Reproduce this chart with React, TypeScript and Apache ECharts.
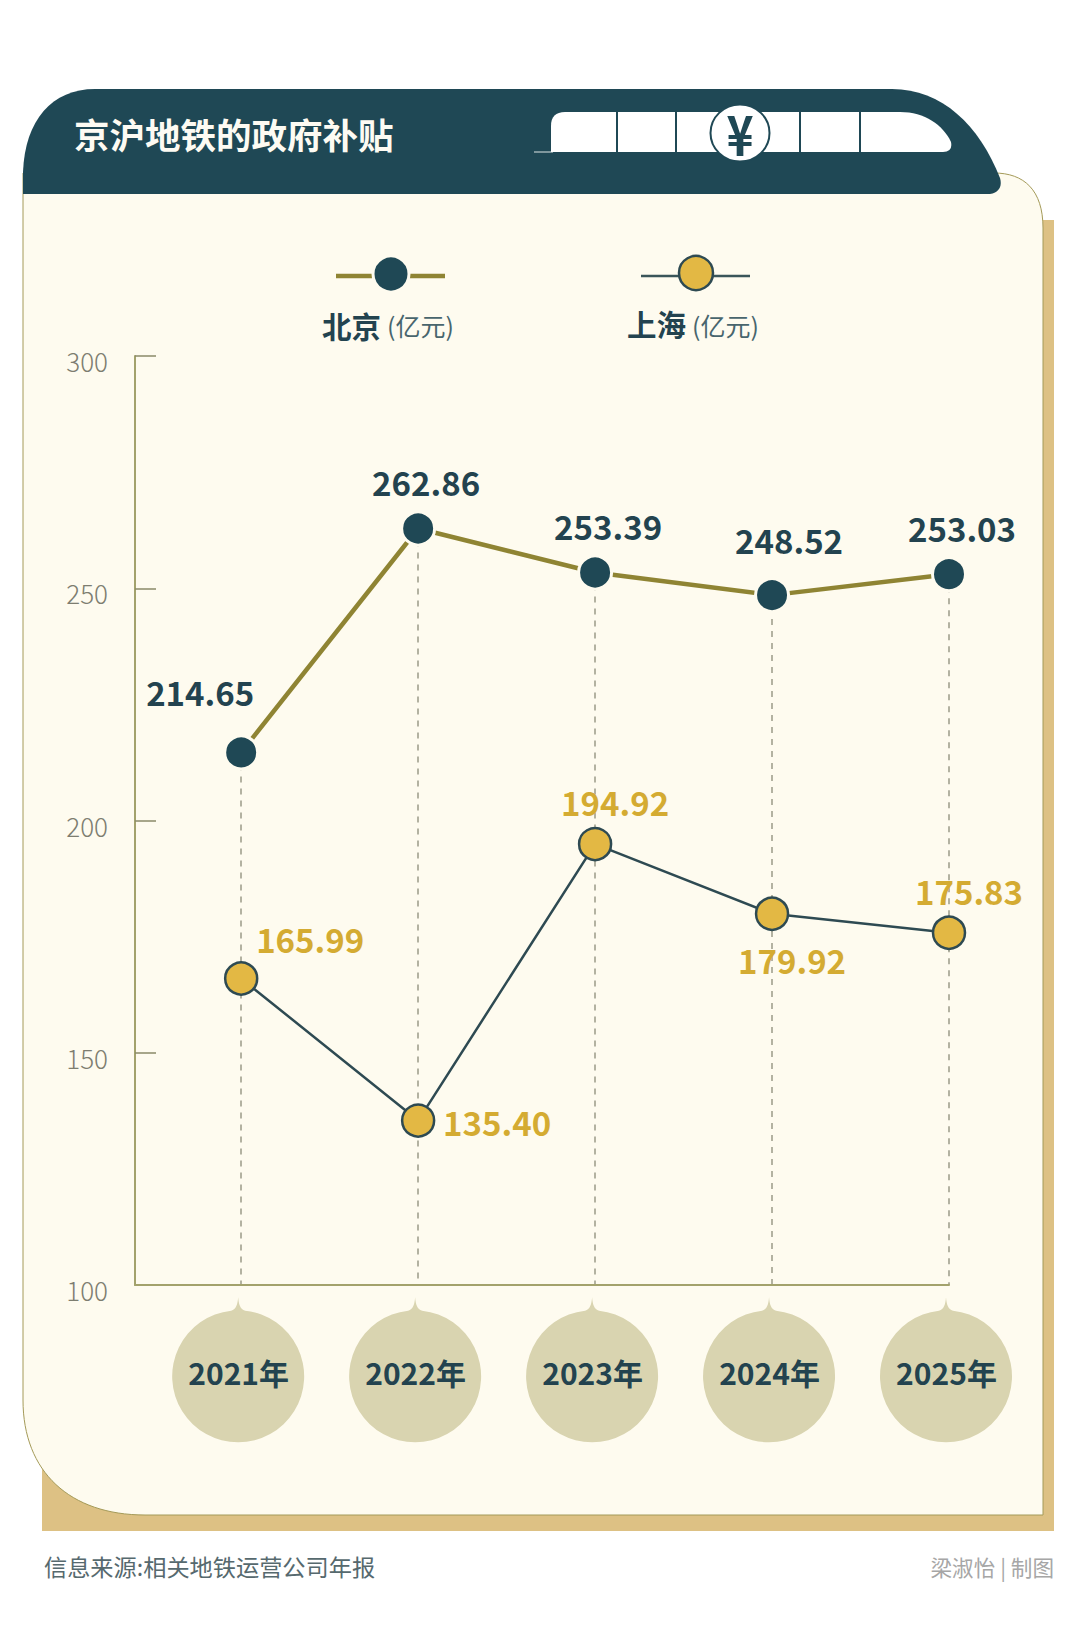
import React, { useEffect, useRef } from "react";
import * as echarts from "echarts";

const years = [2021, 2022, 2023, 2024, 2025];
const beijing = [214.65, 262.86, 253.39, 248.52, 253.03];
const shanghai = [165.99, 135.4, 194.92, 179.92, 175.83];
const yTicks = [100, 150, 200, 250, 300];

const beijingLabelOffsets = [[-41, -60], [8, -47], [13, -47], [17, -55], [13, -46]];
const shanghaiLabelOffsets = [[69, -39], [79, 1], [20, -42], [20, 46], [20, -42]];

const DARK = "#1f4855";
const OLIVE = "#8f8433";
const YELLOW = "#e3b844";
const LABEL_YELLOW = "#d4ab32";
const CREAM = "#fefbef";
const FONT = "'Noto Sans CJK SC','Noto Sans',sans-serif";

echarts.graphic.registerShape(
  "headerShape",
  echarts.graphic.extendPath("M23 194 L23 172 C25 120 52 89 95 89 L892 89 C942 89 979 125 1000 178 C1003 188 997 194 987 194 Z", {})
);
echarts.graphic.registerShape(
  "cardShape",
  echarts.graphic.extendPath("M23 173 L994 173 C1024 173 1043 190 1043 228 L1043 1515 L145 1515 C70 1515 23 1472 23 1400 Z", {})
);
echarts.graphic.registerShape(
  "trainShape",
  echarts.graphic.extendPath("M551 152 L551 126 Q551 112 565 112 L900 112 C925 112 943 125 951 142 Q953 152 943 152 Z", {})
);

const DROPLET = "path://M66 -3 C66.5 4 68 9 73 10.4 A66 66 0 1 1 59 10.4 C64 9 65.5 4 66 -3 Z";

function txt(text: string, x: number, y: number, size: number, fill: string, opts: any = {}) {
  const { weight, align, ...rest } = opts;
  return {
    type: "text",
    z: -1,
    ...rest,
    style: {
      text,
      x,
      y,
      fill,
      fontSize: size,
      fontFamily: FONT,
      fontWeight: weight ?? "normal",
      align: align ?? "left",
      verticalAlign: "middle",
    },
  };
}

function sep(x: number) {
  return { type: "line", z: -1, shape: { x1: x, y1: 110, x2: x, y2: 153 }, style: { stroke: DARK, lineWidth: 2 } };
}

function legendLine(x1: number, x2: number, color: string, w: number) {
  return { type: "line", z: -1, shape: { x1, y1: 276, x2, y2: 276 }, style: { stroke: color, lineWidth: w } };
}

export default function App() {
  const ref = useRef<HTMLDivElement>(null);
  useEffect(() => {
    const chart = echarts.init(ref.current!, undefined, { renderer: "svg" });
    const option: any = {
      animation: false,
      backgroundColor: "#ffffff",
      graphic: {
        elements: [
          { type: "rect", z: -2, shape: { x: 42, y: 220, width: 1012, height: 1311 }, style: { fill: "#ddc184" } },
          { type: "cardShape", z: -2, style: { fill: CREAM, stroke: "#a49a58", lineWidth: 1 } },
          { type: "headerShape", z: -1, style: { fill: DARK } },
          txt("京沪地铁的政府补贴", 74, 133, 35.5, "#fdfbf3", { weight: "bold" }),
          { type: "line", z: -1, shape: { x1: 534, y1: 152, x2: 553, y2: 152 }, style: { stroke: "#dfe6e6", lineWidth: 1 } },
          { type: "trainShape", z: -1, style: { fill: "#ffffff" } },
          sep(617),
          sep(676),
          sep(800),
          sep(860),
          { type: "ellipse", z: -1, shape: { cx: 740, cy: 133, rx: 29.5, ry: 28.5 }, style: { fill: "#ffffff", stroke: DARK, lineWidth: 2 } },
          { ...txt("¥", 0, 0, 56, DARK, { weight: "bold", align: "center" }), x: 740, y: 132, scaleX: 0.82 },
          legendLine(336, 445, OLIVE, 4.5),
          { type: "circle", z: -1, shape: { cx: 391, cy: 274, r: 18 }, style: { fill: DARK, stroke: CREAM, lineWidth: 3 } },
          legendLine(641, 750, "#3a5559", 2.5),
          { type: "circle", z: -1, shape: { cx: 696, cy: 273, r: 17 }, style: { fill: YELLOW, stroke: "#2e4a52", lineWidth: 2.5 } },
          txt("北京", 322, 325, 29.5, "#23434f", { weight: "bold" }),
          txt("(亿元)", 387, 325, 25, "#48656d"),
          txt("上海", 627, 323, 29.5, "#23434f", { weight: "bold" }),
          txt("(亿元)", 692, 325, 25, "#48656d"),
          txt("信息来源:相关地铁运营公司年报", 44, 1566, 23.2, "#56696e"),
          txt("梁淑怡 | 制图", 1054, 1566, 21.6, "#a6a6a6", { align: "right" }),
        ],
      },
      grid: { left: 135, right: 131, top: 356, height: 929, containLabel: false },
      xAxis: {
        type: "value",
        min: 2020.4,
        max: 2025,
        z: 6,
        splitLine: { show: false },
        axisLine: { show: true, onZero: false, lineStyle: { color: "#a3a26c", width: 2 } },
        axisTick: { show: false },
        axisLabel: {
          show: true,
          customValues: years,
          margin: 72,
          fontSize: 30,
          fontWeight: "bold",
          fontFamily: FONT,
          color: "#23434f",
          padding: [0, 5, 0, 0],
          formatter: (v: number) => `${v}年`,
        },
      },
      yAxis: {
        type: "value",
        min: yTicks[0],
        max: yTicks[yTicks.length - 1],
        interval: 50,
        splitLine: { show: false },
        axisLine: { show: true, lineStyle: { color: "#a3a26c", width: 2 } },
        axisTick: { show: true, inside: true, length: 21, lineStyle: { color: "#8a8a68", width: 1.5 } },
        axisLabel: {
          margin: 27,
          fontSize: 26,
          fontFamily: FONT,
          fontWeight: 300,
          color: "#7d7d70",
          verticalAlign: "top",
          lineHeight: 9,
        },
      },
      series: [
        {
          name: "年份底",
          type: "scatter",
          z: 1,
          clip: false,
          silent: true,
          symbol: DROPLET,
          symbolSize: [132, 145],
          symbolOffset: [-3, 0],
          itemStyle: { color: "#d9d4b0", opacity: 1 },
          data: years.map((y) => [y, 81.75]),
        },
        {
          name: "北京",
          type: "line",
          z: 4,
          silent: true,
          symbol: "circle",
          symbolSize: 33,
          showAllSymbol: true,
          lineStyle: { color: OLIVE, width: 4.5 },
          itemStyle: { color: DARK, borderColor: CREAM, borderWidth: 3 },
          label: {
            show: true,
            position: "inside",
            fontSize: 33,
            fontWeight: "bold",
            fontFamily: FONT,
            color: "#23434f",
          },
          data: years.map((y, i) => ({
            value: [y, beijing[i]],
            label: { offset: beijingLabelOffsets[i], formatter: beijing[i].toFixed(2) },
          })),
          markLine: {
            silent: true,
            symbol: "none",
            z: 2,
            label: { show: false },
            lineStyle: { color: "#9b9a88", type: [6, 6], width: 1.5 },
            data: years.map((y, i) => [{ coord: [y, beijing[i]] }, { coord: [y, yTicks[0]] }]),
          },
        },
        {
          name: "上海",
          type: "line",
          z: 5,
          silent: true,
          symbol: "circle",
          symbolSize: 32,
          lineStyle: { color: "#2e4a52", width: 2.5 },
          itemStyle: { color: YELLOW, borderColor: "#2e4a52", borderWidth: 2.5 },
          label: {
            show: true,
            position: "inside",
            fontSize: 33,
            fontWeight: "bold",
            fontFamily: FONT,
            color: LABEL_YELLOW,
          },
          data: years.map((y, i) => ({
            value: [y, shanghai[i]],
            label: { offset: shanghaiLabelOffsets[i], formatter: shanghai[i].toFixed(2) },
          })),
        },
      ],
    };
    chart.setOption(option);
    return () => chart.dispose();
  }, []);
  return <div ref={ref} style={{ position: "absolute", left: 0, top: 0, width: 1080, height: 1627 }} />;
}
